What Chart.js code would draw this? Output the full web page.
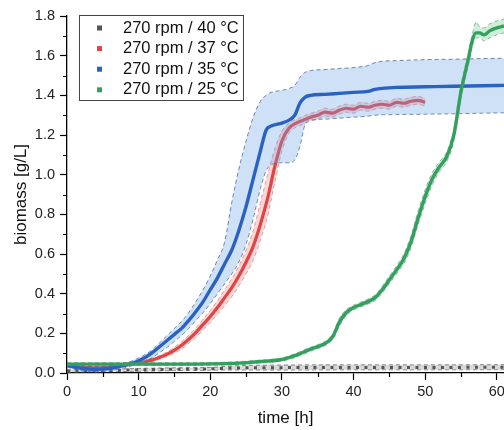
<!DOCTYPE html>
<html>
<head>
<meta charset="utf-8">
<script src="https://cdn.jsdelivr.net/npm/chart.js@4.4.0/dist/chart.umd.min.js"></script>
<style>
  html, body { margin: 0; padding: 0; background: #fff; }
  #chart { display: block; }
</style>
</head>
<body>
<canvas id="chart" width="504" height="430"></canvas>
<script>
const seriesLabels = ['270 rpm / 40 °C', '270 rpm / 37 °C', '270 rpm / 35 °C', '270 rpm / 25 °C'];
const seriesColors = ['#555555', '#e04444', '#2a62c2', '#34a060'];

const xTicks = [0, 10, 20, 30, 40, 50, 60];
const xMinorTicks = [5, 15, 25, 35, 45, 55];
const yTicks = [0, 0.2, 0.4, 0.6, 0.8, 1.0, 1.2, 1.4, 1.6, 1.8];
const yMinorTicks = [0.1, 0.3, 0.5, 0.7, 0.9, 1.1, 1.3, 1.5, 1.7];

// 270 rpm / 40 °C
const tGray = [0, 5, 10, 15, 20, 23, 25, 30, 40, 50, 61];
const grayMean = [0.010, 0.012, 0.016, 0.019, 0.021, 0.025, 0.026, 0.027, 0.028, 0.028, 0.029];
const grayLow = [0.004, 0.006, 0.009, 0.012, 0.014, 0.015, 0.015, 0.015, 0.016, 0.016, 0.017];
const grayHigh = [0.016, 0.018, 0.023, 0.026, 0.028, 0.035, 0.038, 0.040, 0.041, 0.041, 0.042];

// 270 rpm / 37 °C
const tRed = [0, 1, 2, 3, 4, 5, 6, 7, 8, 9, 10, 11, 12, 13, 14, 15, 16, 17, 18, 19, 20, 21, 22, 23, 24, 25,
  26, 27, 28, 29, 30, 31, 32, 33, 34, 35, 36, 37, 38, 39, 40, 41, 42, 43, 44, 45, 46, 47, 48, 49, 50];
const redMean = [0.040, 0.035, 0.030, 0.027, 0.026, 0.027, 0.030, 0.034, 0.040, 0.045, 0.050, 0.058, 0.067,
  0.080, 0.095, 0.115, 0.140, 0.170, 0.205, 0.245, 0.285, 0.330, 0.380, 0.430, 0.490, 0.560, 0.640, 0.750,
  0.880, 1.040, 1.170, 1.235, 1.260, 1.275, 1.290, 1.300, 1.315, 1.310, 1.325, 1.335, 1.330, 1.345, 1.340,
  1.350, 1.355, 1.350, 1.365, 1.360, 1.370, 1.375, 1.365];
const redLow = [0.032, 0.028, 0.023, 0.020, 0.019, 0.020, 0.023, 0.027, 0.033, 0.038, 0.043, 0.050, 0.058,
  0.070, 0.083, 0.100, 0.122, 0.150, 0.182, 0.218, 0.255, 0.295, 0.340, 0.385, 0.440, 0.500, 0.570, 0.670,
  0.790, 0.960, 1.120, 1.210, 1.240, 1.255, 1.270, 1.280, 1.295, 1.290, 1.305, 1.315, 1.310, 1.325, 1.320,
  1.330, 1.335, 1.330, 1.345, 1.340, 1.350, 1.355, 1.345];
const redHigh = [0.048, 0.042, 0.037, 0.034, 0.033, 0.034, 0.037, 0.041, 0.047, 0.052, 0.057, 0.066, 0.076,
  0.090, 0.107, 0.130, 0.158, 0.190, 0.228, 0.272, 0.315, 0.365, 0.420, 0.475, 0.540, 0.620, 0.720, 0.860,
  1.000, 1.130, 1.220, 1.260, 1.280, 1.295, 1.310, 1.320, 1.335, 1.330, 1.345, 1.355, 1.350, 1.365, 1.360,
  1.370, 1.375, 1.370, 1.385, 1.380, 1.390, 1.395, 1.385];

// 270 rpm / 35 °C
const tBlue = [0, 1, 2, 3, 4, 5, 6, 7, 8, 9, 10, 11, 12, 13, 14, 15, 16, 17, 18, 19, 20, 21, 22, 23, 24, 25,
  26, 27, 27.8, 28.5, 30, 31, 31.8, 32.5, 33.2, 34, 36, 38, 40, 42, 43, 44, 46, 50, 54, 58, 61];
const blueMean = [0.040, 0.030, 0.024, 0.020, 0.019, 0.020, 0.024, 0.030, 0.038, 0.048, 0.062, 0.080, 0.105,
  0.135, 0.165, 0.195, 0.225, 0.265, 0.310, 0.360, 0.420, 0.480, 0.550, 0.620, 0.720, 0.840, 0.980, 1.120,
  1.225, 1.245, 1.260, 1.275, 1.300, 1.360, 1.390, 1.400, 1.405, 1.410, 1.415, 1.420, 1.430, 1.435, 1.440,
  1.443, 1.446, 1.448, 1.450];
const blueLow = [0.030, 0.020, 0.012, 0.008, 0.006, 0.008, 0.012, 0.018, 0.026, 0.036, 0.046, 0.060, 0.080,
  0.105, 0.130, 0.160, 0.190, 0.225, 0.265, 0.305, 0.350, 0.400, 0.450, 0.500, 0.560, 0.650, 0.780, 0.930,
  1.020, 1.050, 1.060, 1.060, 1.075, 1.140, 1.250, 1.275, 1.280, 1.285, 1.290, 1.295, 1.300, 1.302, 1.303,
  1.305, 1.307, 1.310, 1.312];
const blueHigh = [0.050, 0.040, 0.036, 0.032, 0.032, 0.033, 0.036, 0.042, 0.050, 0.060, 0.076, 0.095, 0.120,
  0.155, 0.190, 0.225, 0.260, 0.305, 0.360, 0.420, 0.490, 0.570, 0.660, 0.860, 1.030, 1.170, 1.290, 1.370,
  1.400, 1.415, 1.425, 1.435, 1.450, 1.490, 1.515, 1.525, 1.530, 1.535, 1.540, 1.550, 1.565, 1.572, 1.575,
  1.580, 1.582, 1.585, 1.587];

// 270 rpm / 25 °C
const tGreen = [0, 5, 10, 15, 20, 24, 27, 30, 32, 34, 35.5, 36.5, 37.2, 38, 39, 40, 41, 42, 43, 44, 45, 46,
  47, 48, 49, 50, 51, 52, 53, 54, 55, 56, 56.6, 57.1, 57.6, 58.2, 59, 60, 61];
const greenMean = [0.045, 0.045, 0.045, 0.045, 0.046, 0.050, 0.058, 0.068, 0.090, 0.120, 0.140, 0.160, 0.190,
  0.255, 0.305, 0.330, 0.345, 0.360, 0.380, 0.420, 0.470, 0.520, 0.575, 0.660, 0.780, 0.890, 0.980, 1.040,
  1.090, 1.200, 1.420, 1.580, 1.680, 1.715, 1.715, 1.705, 1.725, 1.740, 1.750];
const greenLow = [0.038, 0.038, 0.038, 0.038, 0.039, 0.043, 0.051, 0.060, 0.080, 0.110, 0.130, 0.148, 0.175,
  0.235, 0.290, 0.318, 0.333, 0.347, 0.366, 0.403, 0.450, 0.500, 0.550, 0.630, 0.745, 0.855, 0.950, 1.015,
  1.065, 1.170, 1.390, 1.550, 1.650, 1.690, 1.690, 1.675, 1.690, 1.705, 1.715];
const greenHigh = [0.052, 0.052, 0.052, 0.052, 0.053, 0.057, 0.065, 0.076, 0.100, 0.130, 0.150, 0.172, 0.205,
  0.275, 0.320, 0.342, 0.357, 0.373, 0.394, 0.437, 0.490, 0.540, 0.600, 0.690, 0.815, 0.925, 1.010, 1.065,
  1.115, 1.230, 1.450, 1.610, 1.710, 1.770, 1.745, 1.740, 1.760, 1.775, 1.785];

const fontFamily = '"Liberation Sans", Arial, sans-serif';
Chart.defaults.font.family = fontFamily;

function points(t, v) {
  return t.map((x, i) => ({ x: x, y: v[i] }));
}

function edge(t, v, border, fillTo, fillColor, order) {
  return {
    data: points(t, v),
    borderColor: border,
    borderWidth: 0.9,
    borderDash: [4, 3],
    backgroundColor: fillColor || 'transparent',
    fill: fillTo === undefined ? false : fillTo,
    pointRadius: 0,
    cubicInterpolationMode: 'monotone',
    order: order
  };
}

function meanLine(t, v, color, width, order, dash) {
  return {
    data: points(t, v),
    borderColor: color,
    borderWidth: width,
    borderDash: dash || [],
    borderCapStyle: 'butt',
    pointRadius: 0,
    fill: false,
    cubicInterpolationMode: 'monotone',
    order: order
  };
}

const datasets = [
  edge(tGray, grayLow, 'rgba(90,90,90,0.8)', undefined, null, 12),
  edge(tGray, grayHigh, 'rgba(90,90,90,0.8)', 0, 'rgba(160,160,160,0.4)', 11),
  meanLine(tGray, grayMean, seriesColors[0], 3, 10, [3, 5.5]),
  edge(tRed, redLow, 'rgba(215,110,110,0.7)', undefined, null, 9),
  edge(tRed, redHigh, 'rgba(215,110,110,0.7)', 3, 'rgba(240,120,120,0.3)', 8),
  meanLine(tRed, redMean, seriesColors[1], 3.2, 7),
  edge(tBlue, blueLow, 'rgba(80,105,150,0.9)', undefined, null, 6),
  edge(tBlue, blueHigh, 'rgba(80,105,150,0.9)', 6, 'rgba(110,165,230,0.33)', 5),
  meanLine(tBlue, blueMean, seriesColors[2], 3.4, 4),
  edge(tGreen, greenLow, 'rgba(90,140,100,0.7)', undefined, null, 3),
  edge(tGreen, greenHigh, 'rgba(90,140,100,0.7)', 9, 'rgba(90,200,130,0.3)', 2),
  meanLine(tGreen, greenMean, seriesColors[3], 3.4, 1)
];

const minorTicks = {
  id: 'minorTicks',
  afterDraw(chart) {
    const { ctx, scales } = chart;
    const x = scales.x, y = scales.y;
    ctx.save();
    ctx.strokeStyle = '#000';
    ctx.lineWidth = 1.2;
    ctx.beginPath();
    xMinorTicks.forEach(v => {
      const px = Math.round(x.getPixelForValue(v)) + 0.5;
      ctx.moveTo(px, y.bottom);
      ctx.lineTo(px, y.bottom + 4);
    });
    yMinorTicks.forEach(v => {
      const py = Math.round(y.getPixelForValue(v)) + 0.5;
      ctx.moveTo(x.left, py);
      ctx.lineTo(x.left - 4, py);
    });
    ctx.stroke();
    ctx.restore();
  }
};

const legendBox = {
  id: 'legendBox',
  afterDraw(chart) {
    const ctx = chart.ctx;
    const area = chart.chartArea;
    const bx = area.left + 12, by = area.top - 1, bw = 164, bh = 85;
    ctx.save();
    ctx.fillStyle = '#fff';
    ctx.fillRect(bx, by, bw, bh);
    ctx.strokeStyle = '#444';
    ctx.lineWidth = 1;
    ctx.strokeRect(bx + 0.5, by + 0.5, bw, bh);
    ctx.font = '16.5px ' + fontFamily;
    ctx.textBaseline = 'middle';
    seriesLabels.forEach((label, i) => {
      const cy = by + 13 + i * 20.6;
      ctx.fillStyle = seriesColors[i];
      ctx.fillRect(bx + 18, cy - 2.5, 5, 5);
      ctx.fillStyle = '#111';
      ctx.fillText(label, bx + 44, cy);
    });
    ctx.restore();
  }
};

new Chart(document.getElementById('chart'), {
  type: 'line',
  data: { datasets: datasets },
  options: {
    responsive: false,
    animation: false,
    layout: { padding: { top: 16, left: 0, right: 0, bottom: 0 } },
    plugins: {
      legend: { display: false },
      tooltip: { enabled: false }
    },
    scales: {
      x: {
        type: 'linear',
        min: 0,
        max: 61,
        afterBuildTicks: s => { s.ticks = xTicks.map(v => ({ value: v })); },
        afterFit: s => { s.height = 57; s.paddingLeft = 0; s.paddingRight = 0; },
        ticks: { color: '#222', font: { size: 14.5 }, padding: 3, maxRotation: 0 },
        grid: { drawOnChartArea: false, tickLength: 7, tickColor: '#000', tickWidth: 1.2 },
        border: { color: '#000', width: 1.3 },
        title: { display: true, text: 'time [h]', color: '#111', font: { size: 17 }, padding: { top: 0, bottom: 1 } }
      },
      y: {
        type: 'linear',
        min: 0,
        max: 1.8,
        afterBuildTicks: s => { s.ticks = yTicks.map(v => ({ value: v })); },
        afterFit: s => { s.width = 67; s.paddingTop = 0; s.paddingBottom = 0; },
        ticks: { color: '#222', font: { size: 14.5 }, padding: 5, callback: v => Number(v).toFixed(1) },
        grid: { drawOnChartArea: false, tickLength: 7, tickColor: '#000', tickWidth: 1.2 },
        border: { color: '#000', width: 1.3 },
        title: { display: true, text: 'biomass [g/L]', color: '#111', font: { size: 17 }, padding: { top: 11, bottom: 0 } }
      }
    }
  },
  plugins: [minorTicks, legendBox]
});
</script>
</body>
</html>
